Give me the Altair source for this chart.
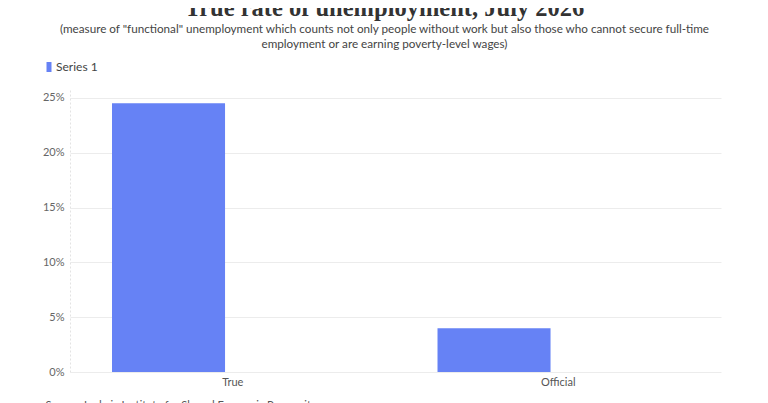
import altair as alt
import pandas as pd

categories = ["True", "Official"]
rates = [0.245, 0.040]
series = ["Series 1", "Series 1"]
series_slots = ["Series 1", "Series 2"]
y_ticks = [0, 0.05, 0.10, 0.15, 0.20, 0.25]

title_text = "True rate of unemployment, July 2026"
subtitle_lines = [
    '(measure of "functional" unemployment which counts not only people without work but also those who cannot secure full-time',
    "employment or are earning poverty-level wages)",
]
source_text = "Source: Ludwig Institute for Shared Economic Prosperity"

df = pd.DataFrame({"category": categories, "rate": rates, "series": series})

bars = (
    alt.Chart(df)
    .mark_bar(color="#6682f5")
    .encode(
        x=alt.X(
            "category:N",
            sort=categories,
            scale=alt.Scale(paddingInner=0, paddingOuter=0),
            axis=alt.Axis(
                title=source_text,
                titleFont="Lato",
                titleFontSize=11,
                titleFontWeight="normal",
                titleColor="#555555",
                titleAnchor="start",
                titleAlign="left",
                titleBaseline="top",
                titleX=-25,
                titleY=27,
                labelAngle=0,
                labelFont="Lato",
                labelFontSize=11,
                labelColor="#555555",
                labelPadding=4,
                ticks=False,
                domain=False,
                grid=False,
            ),
        ),
        xOffset=alt.XOffset(
            "series:N",
            scale=alt.Scale(domain=series_slots, paddingInner=0.12, paddingOuter=0.327),
        ),
        y=alt.Y(
            "rate:Q",
            scale=alt.Scale(domain=[0, 0.259], nice=False),
            axis=alt.Axis(
                title=None,
                values=y_ticks,
                format=".0%",
                labelFont="Lato",
                labelFontSize=11,
                labelColor="#666666",
                labelPadding=6,
                ticks=False,
                domainColor="#e3e3e3",
                domainDash=[2, 2],
                gridColor="#ececec",
            ),
        ),
        color=alt.Color(
            "series:N",
            scale=alt.Scale(range=["#6682f5"]),
            legend=alt.Legend(
                title=None,
                orient="none",
                legendX=-27,
                legendY=-27,
                symbolType="M-0.5,-1H0.5V1H-0.5Z",
                symbolSize=100,
                symbolStrokeWidth=0,
                labelFont="Lato",
                labelFontSize=12,
                labelColor="#444444",
                labelOffset=1,
            ),
        ),
    )
)

chart = bars.properties(
    width=651,
    height=284,
    background="white",
    autosize=alt.AutoSizeParams(type="none"),
    padding={"left": 62, "top": 80, "right": 39, "bottom": 40},
    title=alt.TitleParams(
        text=title_text,
        subtitle=subtitle_lines,
        font="Liberation Serif",
        fontSize=24.5,
        fontWeight="bold",
        color="#333333",
        subtitleFont="Lato",
        subtitleFontSize=11.7,
        subtitleColor="#444444",
        subtitleLineHeight=15,
        subtitlePadding=2.5,
        anchor="middle",
        dx=-11,
        offset=9.5,
    ),
).configure_view(stroke=None, strokeWidth=0)

chart.save("out.html", embed_options={"renderer": "svg", "actions": False})
